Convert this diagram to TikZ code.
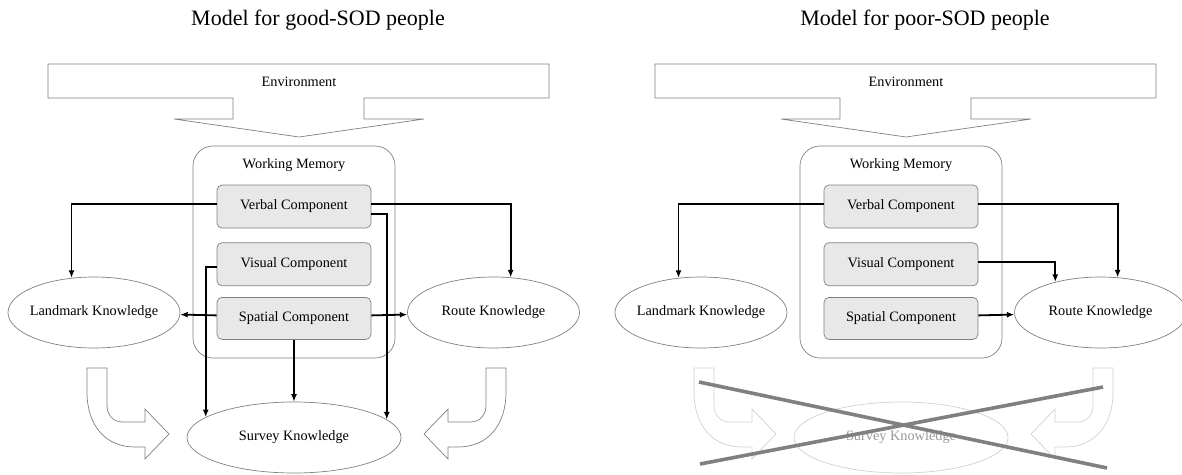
\documentclass[tikz,border=0pt]{standalone}
\usepackage{fontspec}
\setmainfont{Liberation Serif}
\usepackage{tikz}
\usetikzlibrary{arrows.meta,positioning,shapes.geometric}
\newcommand{\envarrow}{%
  \draw[greyline] (48,64) -- (549,64) -- (549,98) -- (364,98) -- (364,119)
    -- (424,119) -- (299,137) -- (174,119) -- (233,119) -- (233,98)
    -- (48,98) -- cycle;}
\newcommand{\bentpair}[1]{%
  \draw[#1] (87,368) -- (87,392) .. controls (87,425) and (105,447) .. (135,447)
    -- (145,447) -- (145,459) -- (169,434) -- (145,409) -- (145,422) -- (123,422)
    .. controls (113,422) and (107,415) .. (107,405) -- (107,368) -- cycle;
  \draw[#1] (506,368) -- (506,392) .. controls (506,425) and (488,447) .. (458,447)
    -- (448,447) -- (448,459) -- (424,434) -- (448,409) -- (448,422) -- (470,422)
    .. controls (480,422) and (486,415) .. (486,405) -- (486,368) -- cycle;}

\begin{document}
\begin{tikzpicture}[x=1pt,y=-1pt,
  every node/.style={font=\fontsize{14.3}{17}\selectfont},
  heading/.style={font=\fontsize{22}{26}\selectfont},
  greyline/.style={draw=black!50, line width=0.7pt},
  wmbox/.style={greyline, rounded corners=20pt, minimum width=202pt, minimum height=212pt},
  compbox/.style={greyline, fill=black!9, rounded corners=5pt,
    minimum width=154pt, minimum height=43pt, inner sep=0pt},
  knowl/.style={greyline, ellipse, inner xsep=-8pt, inner ysep=0pt,
    minimum width=172pt, minimum height=71pt},
  arr/.style={-{Latex[length=7.5pt,width=6pt]}, line width=1.8pt},
  faded/.style={draw=black!18, line width=0.7pt},
  xline/.style={draw=black!50, line width=3.6pt}]
\useasboundingbox (0,0) rectangle (1182,474);

% model for good-SOD people
\node[heading] (gtitle) at (318,20) {Model for good-SOD people};
\envarrow
\node (genv) at (299,82) {Environment};
\node[wmbox] (gwm) at (294,252) {};
\node (gwmlabel) at (294,165) {Working Memory};
\node[compbox] (gverbal) at (294,206.5) {Verbal Component};
\node[compbox, below=14pt of gverbal] (gvisual) {Visual Component};
\node[compbox, below=11pt of gvisual, minimum height=42pt] (gspatial) {Spatial Component};
\node[knowl] (glandmark) at (94,312.5) {Landmark Knowledge};
\node[knowl] (groute) at (493.5,312.5) {Route Knowledge};
\node[knowl, minimum width=214pt] (gsurvey) at (294,437.5) {Survey Knowledge};
\bentpair{greyline}
\draw[arr] ([yshift=2.5pt]gverbal.west) -| (glandmark.123);
\draw[arr] ([yshift=2.5pt]gverbal.east) -| (groute.64);
\draw[arr] ([yshift=-7.5pt]gverbal.east) -| (gsurvey.11);
\draw[arr] ([yshift=-2.5pt]gvisual.west) -| (gsurvey.167);
\draw[arr] ([yshift=3pt]gspatial.west) -- (glandmark);
\draw[arr] ([yshift=3pt]gspatial.east) -- (groute);
\draw[arr] (gspatial) -- (gsurvey);

% model for poor-SOD people
\begin{scope}[xshift=607pt]
\node[heading] (ptitle) at (318,20) {Model for poor-SOD people};
\envarrow
\node (penv) at (299,82) {Environment};
\node[wmbox] (pwm) at (294,252) {};
\node (pwmlabel) at (294,165) {Working Memory};
\node[compbox] (pverbal) at (294,206.5) {Verbal Component};
\node[compbox, below=14pt of pverbal] (pvisual) {Visual Component};
\node[compbox, below=11pt of pvisual, minimum height=42pt] (pspatial) {Spatial Component};
\node[knowl] (plandmark) at (94,312.5) {Landmark Knowledge};
\node[knowl] (proute) at (493.5,312.5) {Route Knowledge};
\bentpair{faded}
\node[knowl, faded, minimum width=214pt, text=black!40] (psurvey) at (294,437.5) {Survey Knowledge};
\draw[xline] (92,382) -- (500,468);
\draw[xline] (93,464) -- (496,387);
\draw[arr] ([yshift=2.5pt]pverbal.west) -| (plandmark.123);
\draw[arr] ([yshift=2.5pt]pverbal.east) -| (proute.64);
\draw[arr] ([yshift=2.5pt]pvisual.east) -| (proute.146);
\draw[arr] ([yshift=3pt]pspatial.east) -- (proute);
\end{scope}
\end{tikzpicture}
\end{document}
